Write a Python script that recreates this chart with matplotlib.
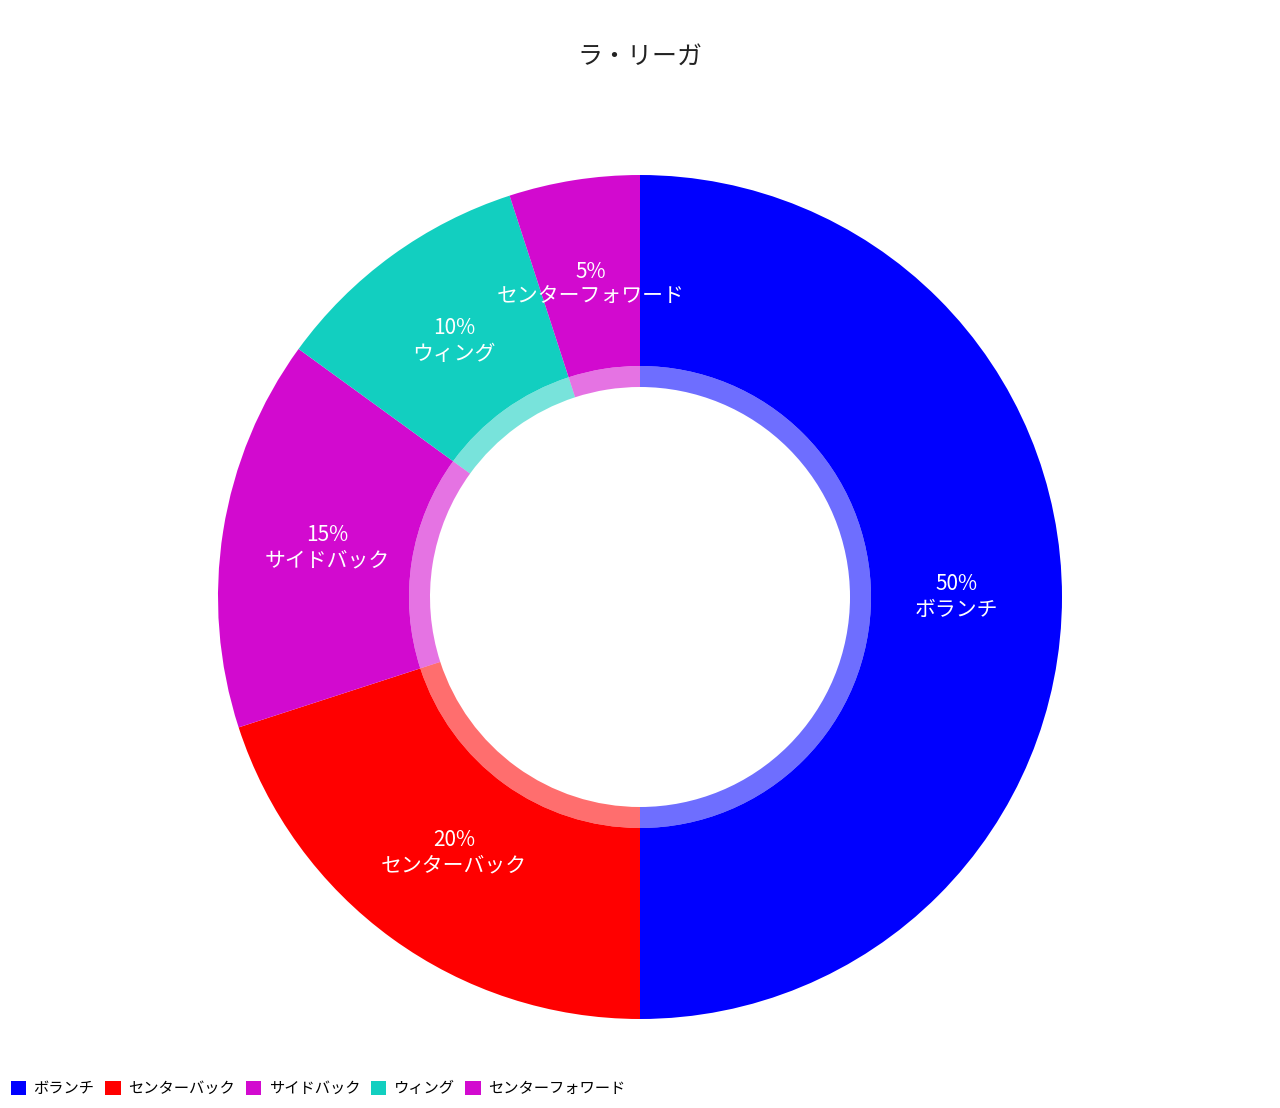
import matplotlib
matplotlib.use("Agg")
import matplotlib.pyplot as plt
from matplotlib.patches import Patch
import numpy as np

plt.rcParams['font.family'] = ['Noto Sans CJK JP', 'DejaVu Sans']

categories = ["ボランチ", "センターバック", "サイドバック", "ウィング", "センターフォワード"]
values = [50, 20, 15, 10, 5]
colors = ["#0000FF", "#FF0000", "#D20ACF", "#12CFC0", "#D20ACF"]
title = "ラ・リーガ"

W, H = 1280, 1108
fig = plt.figure(figsize=(W / 100, H / 100), dpi=100)
cx, cy, R = 640, 1108 - 597, 422
ax = fig.add_axes([(cx - R) / W, (cy - R) / H, 2 * R / W, 2 * R / H])

ax.pie(values, colors=colors, startangle=90, counterclock=False,
       radius=1.0, wedgeprops=dict(width=1 - 231 / 422, linewidth=0))
ax.pie(values, colors=colors, startangle=90, counterclock=False,
       radius=231 / 422, wedgeprops=dict(width=(231 - 210) / 422, linewidth=0, alpha=0.57))
ax.set_xlim(-1, 1)
ax.set_ylim(-1, 1)
ax.set_aspect('equal')
ax.axis('off')

total = sum(values)
ang = 90.0
rl = 0.75
for v, c in zip(values, categories):
    mid = ang - v / total * 360 / 2
    ang -= v / total * 360
    x = rl * np.cos(np.radians(mid))
    y = rl * np.sin(np.radians(mid))
    ax.text(x, y, f"{v}%\n{c}", ha='center', va='center', color='white',
            fontsize=15, linespacing=1.2)

fig.text(0.5, 1 - 57 / H, title, ha='center', va='center', fontsize=18, color='#222222')

handles = [Patch(facecolor=col, edgecolor='none') for col in colors]
fig.legend(handles, categories, loc='lower left', bbox_to_anchor=(0.0, 0.0), ncol=5,
           frameon=False, fontsize=11, handlelength=1.0, handleheight=1.0,
           handletextpad=0.5, columnspacing=0.7, borderaxespad=0.3)

fig.savefig("out.png", dpi=100, facecolor='white')
